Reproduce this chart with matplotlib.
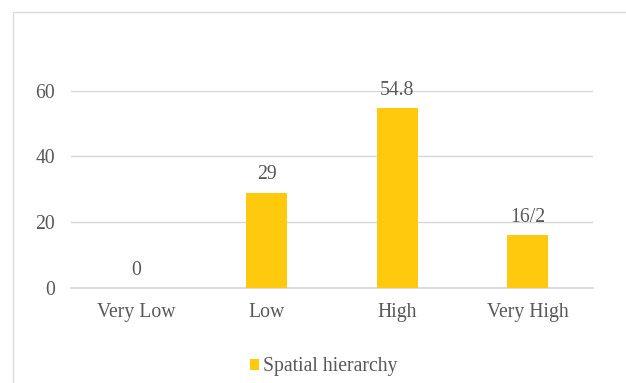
import matplotlib
matplotlib.use("Agg")
import matplotlib.pyplot as plt
from matplotlib.patches import Patch, Rectangle

categories = ["Very Low", "Low", "High", "Very High"]
values = [0, 29, 54.8, 16.2]
value_labels = ["0", "29", "54.8", "16/2"]
yticks = [0, 20, 40, 60]
series_name = "Spatial hierarchy"

bar_color = "#FFC90D"
text_color = "#595959"
grid_color = "#D6D6D6"
font_size = 14.2

plt.rcParams["font.family"] = ["Liberation Serif", "DejaVu Serif"]

W, H = 626, 383
fig = plt.figure(figsize=(W / 100, H / 100), dpi=100)

# chart area frame (open towards right and bottom)
fig.patches.append(Rectangle((12.5 / W, -0.1), 1.2, 1.1 - 11.7 / H,
                             transform=fig.transFigure, fill=False,
                             edgecolor="#D9D9D9", linewidth=1.0))

ax = fig.add_axes([71 / W, 1 - 288 / H, (593 - 71) / W, (288 - 90.7) / H])
x = range(len(categories))
ax.bar(x, values, width=0.314, color=bar_color, zorder=3)
ax.set_xlim(-0.5, len(categories) - 0.5)
ax.set_ylim(0, 60)
ax.set_yticks(yticks)
ax.set_xticks(list(x))
ax.set_xticklabels(categories)
ax.yaxis.grid(True, color=grid_color, linewidth=1.0, zorder=0)
ax.axhline(0, color=grid_color, linewidth=1.2, zorder=2, clip_on=False)
for s in ax.spines.values():
    s.set_visible(False)
ax.tick_params(axis="both", length=0, labelsize=font_size, labelcolor=text_color)
ax.tick_params(axis="y", pad=11.5)
ax.tick_params(axis="x", pad=11)

for xi, v, lab in zip(x, values, value_labels):
    ax.annotate(lab, (xi, v), xytext=(0, 9.5), textcoords="offset points",
                ha="center", va="baseline", fontsize=font_size,
                color=text_color, zorder=4)

fig.legend(handles=[Patch(facecolor=bar_color, edgecolor="none", label=series_name)],
           loc="center", bbox_to_anchor=(323.5 / W, 1 - 367 / H),
           frameon=False, fontsize=font_size, labelcolor=text_color,
           handlelength=0.46, handleheight=0.46, handletextpad=0.2,
           borderpad=0, borderaxespad=0)

fig.savefig("out.png", dpi=100)
